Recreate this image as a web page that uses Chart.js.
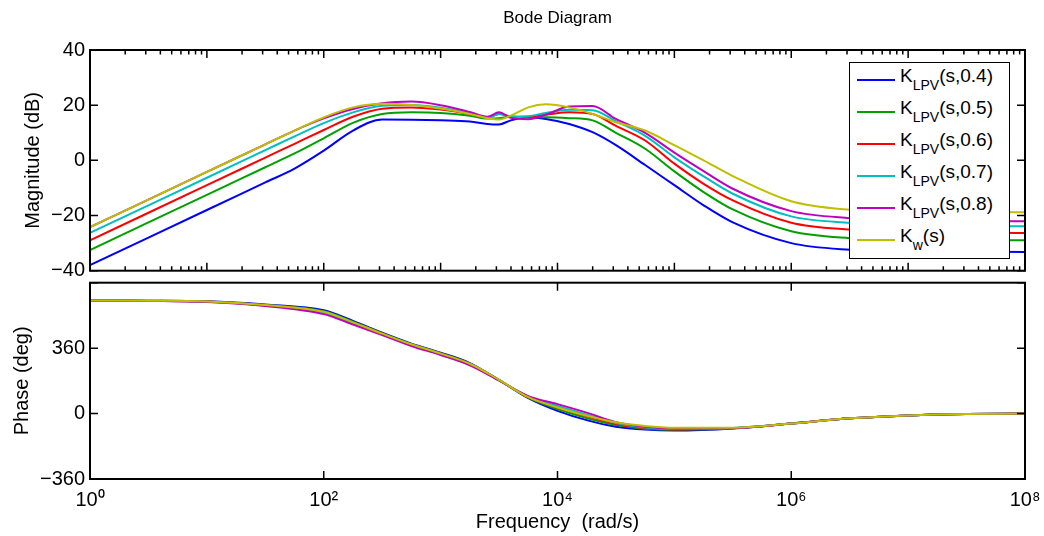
<!DOCTYPE html>
<html>
<head>
<meta charset="utf-8">
<script src="https://cdn.jsdelivr.net/npm/chart.js@4.4.1/dist/chart.umd.min.js"></script>
<style>
  body { margin: 0; background: #fff; }
  #wrap { position: relative; width: 1044px; height: 536px; font-family: 'Liberation Sans', Arial, sans-serif; }
  #magBox { position: absolute; left: 0; top: 0; width: 1044px; height: 285px; }
  #phaseBox { position: absolute; left: 0; top: 275px; width: 1044px; height: 261px; }
  #legend { position: absolute; left: 849px; top: 62px; width: 161px; height: 197px; box-sizing: border-box;
            border: 1px solid #000; background: #fff; }
  .row { position: absolute; left: 0; width: 159px; height: 32px; font-size: 19px; color: #000; }
  .row .ln { position: absolute; left: 7px; top: 16px; width: 38px; height: 2px; }
  .row .tx { position: absolute; left: 50px; top: 2px; white-space: nowrap; line-height: 22px; }
  .row sub { font-size: 14px; position: relative; top: 3px; vertical-align: sub; line-height: 0; }
</style>
</head>
<body>
<div id="wrap">
  <div id="magBox"><canvas id="mag"></canvas></div>
  <div id="phaseBox"><canvas id="phase"></canvas></div>
  <div id="legend"></div>
</div>
<script>
// frequency grid, as log10(rad/s)
const magLogW = [0, 1, 1.5, 1.75, 2, 2.25, 2.5, 2.75, 3, 3.25, 3.4, 3.5, 3.6, 3.75, 3.9, 4.1, 4.3, 4.5, 4.75, 5, 5.25, 5.5, 6, 6.5, 7, 8];
const phaseLogW = [0, 0.5, 1, 1.5, 2, 2.25, 2.5, 2.75, 3, 3.25, 3.5, 3.75, 4, 4.25, 4.5, 4.75, 5, 5.5, 6, 6.5, 7, 7.5, 8];

// magnitude (dB)
const magK04 = [-38, -18, -8, -3, 3.5, 10.8, 14.8, 14.7, 14.5, 14.1, 13.2, 13.0, 14.5, 15.6, 15.0, 13.2, 10.2, 5.5, -1.7, -9, -16.3, -22.5, -30, -32.4, -33, -33.2];
const magK05 = [-32.5, -12.5, -2.5, 2.5, 8, 13.6, 16.8, 17.4, 17.2, 16.2, 15.2, 15.3, 15.8, 15.6, 15.6, 15.3, 14.5, 10, 4.2, -4, -11.5, -17.8, -25.7, -28.2, -28.8, -29];
const magK06 = [-29, -9, 1, 6, 11, 15.8, 18.7, 19.2, 18.4, 16.8, 15.5, 16.8, 15.9, 15.8, 16.5, 17.4, 16.8, 12.5, 7.2, -1.2, -8.5, -14.5, -22.6, -25.1, -25.9, -26.3];
const magK07 = [-26.3, -6.3, 3.7, 8.7, 13.5, 17.4, 19.8, 20.1, 19.1, 17, 15.5, 16.8, 15.7, 16, 17.2, 18.3, 18.2, 14.2, 8.9, 1.1, -5.8, -12.1, -20.3, -22.6, -23.4, -23.9];
const magK08 = [-24.2, -4.2, 5.8, 10.8, 15.2, 18.6, 20.7, 21.3, 20, 17.5, 15.8, 17.4, 15.4, 14.9, 16.5, 19.5, 19.7, 15, 10, 2.8, -3.9, -10.3, -18.4, -20.9, -21.7, -22.1];
const magKw = [-24.2, -4.2, 5.8, 10.8, 15.6, 19.2, 20.5, 20.1, 18.8, 16.8, 15.3, 14.8, 16.2, 19.2, 20.3, 19.2, 16.8, 13.8, 10.8, 5.5, 0, -5.7, -14.8, -17.9, -18.6, -18.8];

// phase (deg)
const phK04 = [622, 621, 618, 600, 568, 510, 445, 385, 335, 278, 185, 85, 15, -36, -72, -88, -93, -82, -55, -26, -10, -2, 0];
const phK05 = [622, 621, 617, 598, 563, 506, 442, 382, 332, 275, 184, 88, 25, -25, -63, -83, -89, -81, -55, -26, -10, -2, 0];
const phK06 = [622, 620, 616, 596, 558, 501, 439, 379, 329, 272, 183, 91, 33, -15, -57, -79, -87, -81, -55, -26, -10, -2, 0];
const phK07 = [622, 620, 615, 594, 553, 496, 436, 376, 326, 269, 182, 93, 42, -6, -52, -76, -85, -80, -55, -26, -10, -2, 0];
const phK08 = [622, 620, 614, 592, 547, 490, 432, 372, 322, 266, 182, 96, 52, 5, -47, -73, -82, -80, -55, -26, -10, -2, 0];
const phKw = [622, 621, 617, 597, 560, 502, 440, 381, 330, 274, 186, 90, 33, -12, -48, -68, -78, -78, -55, -26, -10, -2, 0];

const seriesMain = ['K', 'K', 'K', 'K', 'K', 'K'];
const seriesSub = ['LPV', 'LPV', 'LPV', 'LPV', 'LPV', 'w'];
const seriesArg = ['(s,0.4)', '(s,0.5)', '(s,0.6)', '(s,0.7)', '(s,0.8)', '(s)'];
const seriesColors = ['#0000ff', '#00a000', '#ff0000', '#00bfbf', '#bf00bf', '#bfbf00'];

const magTicks = [-40, -20, 0, 20, 40];
const phaseTicks = [-360, 0, 360, 720];
const decadeLabels = [0, 2, 4, 6, 8];
const sup = { 0: '\u2070', 2: '\u00b2', 4: '\u2074', 6: '\u2076', 8: '\u2078' };

Chart.defaults.font.family = "'Liberation Sans', Arial, sans-serif";
Chart.defaults.color = '#000';

function pts(logw, vals) {
  return logw.map((e, i) => ({ x: Math.pow(10, e), y: vals[i] }));
}
function makeSets(logw, list) {
  return list.map((vals, i) => ({
    label: seriesMain[i] + '_' + seriesSub[i] + seriesArg[i],
    data: pts(logw, vals),
    borderColor: seriesColors[i],
    borderWidth: 2,
    pointRadius: 0,
    cubicInterpolationMode: 'monotone',
    order: list.length - i
  }));
}
const minus = v => (v < 0 ? '\u2212' + Math.abs(v) : String(v));
const noPad = s => { s.paddingTop = 0; s.paddingBottom = 0; s.paddingLeft = 0; s.paddingRight = 0; };

// box + inward ticks like matlab
const frame = {
  id: 'frame',
  afterDatasetsDraw(chart, args, opts) {
    const { ctx, chartArea: a } = chart;
    const x = chart.scales.x, y = chart.scales.y;
    ctx.save();
    ctx.strokeStyle = '#000';
    ctx.lineWidth = 1.5;
    ctx.beginPath();
    const xt = (v, len) => {
      const p = x.getPixelForValue(v);
      ctx.moveTo(p, a.bottom); ctx.lineTo(p, a.bottom - len);
      ctx.moveTo(p, a.top); ctx.lineTo(p, a.top + len);
    };
    opts.xMajor.forEach(v => xt(v, 8));
    opts.xMinor.forEach(v => xt(v, 4.5));
    opts.yMajor.forEach(v => {
      const p = y.getPixelForValue(v);
      ctx.moveTo(a.left, p); ctx.lineTo(a.left + 8, p);
      ctx.moveTo(a.right, p); ctx.lineTo(a.right - 8, p);
    });
    ctx.stroke();
    ctx.lineWidth = 2;
    ctx.strokeRect(a.left, a.top, a.right - a.left, a.bottom - a.top);
    ctx.restore();
  }
};

const allDecades = [0, 1, 2, 3, 4, 5, 6, 7, 8].map(e => Math.pow(10, e));
const minors = [];
for (let e = 0; e < 8; e++) for (let m = 2; m < 10; m++) minors.push(m * Math.pow(10, e));

const magChart = new Chart(document.getElementById('mag'), {
  type: 'line',
  data: { datasets: makeSets(magLogW, [magK04, magK05, magK06, magK07, magK08, magKw]) },
  plugins: [frame],
  options: {
    responsive: true, maintainAspectRatio: false, animation: false,
    layout: { padding: { left: 0, right: 19, top: 0, bottom: 14.3 } },
    plugins: {
      legend: { display: false }, tooltip: { enabled: false },
      title: { display: true, text: 'Bode Diagram', fullSize: false, font: { size: 17, weight: 'normal' },
               padding: { top: 8, bottom: 21.6 } },
      frame: { xMajor: allDecades, xMinor: minors, yMajor: magTicks }
    },
    scales: {
      x: { type: 'logarithmic', min: 1, max: 1e8, display: false },
      y: {
        min: -40, max: 40,
        afterFit: s => { s.width = 90; noPad(s); },
        afterBuildTicks: s => { s.ticks = magTicks.map(v => ({ value: v })); },
        grid: { display: false, drawTicks: false }, border: { display: false },
        ticks: { padding: 5, font: { size: 20 }, callback: v => minus(v) },
        title: { display: true, text: 'Magnitude (dB)', font: { size: 20 }, padding: { top: 21 } }
      }
    }
  }
});

const phaseChart = new Chart(document.getElementById('phase'), {
  type: 'line',
  data: { datasets: makeSets(phaseLogW, [phK04, phK05, phK06, phK07, phK08, phKw]) },
  plugins: [frame],
  options: {
    responsive: true, maintainAspectRatio: false, animation: false,
    layout: { padding: { left: 0, right: 19, top: 7.7, bottom: 0 } },
    plugins: {
      legend: { display: false }, tooltip: { enabled: false },
      frame: { xMajor: decadeLabels.map(e => Math.pow(10, e)), xMinor: [], yMajor: phaseTicks }
    },
    scales: {
      x: {
        type: 'logarithmic', min: 1, max: 1e8,
        afterFit: s => { s.height = 57; noPad(s); },
        afterBuildTicks: s => { s.ticks = decadeLabels.map(e => ({ value: Math.pow(10, e) })); },
        grid: { display: false, drawTicks: false }, border: { display: false },
        ticks: { padding: 9, maxRotation: 0, font: { size: 20 },
                 callback: v => '10' + sup[Math.round(Math.log10(v))] },
        title: { display: true, text: 'Frequency  (rad/s)', font: { size: 20 }, padding: { top: 0, bottom: 2 } }
      },
      y: {
        min: -360, max: 720,
        afterFit: s => { s.width = 90; noPad(s); },
        afterBuildTicks: s => { s.ticks = phaseTicks.map(v => ({ value: v })); },
        grid: { display: false, drawTicks: false }, border: { display: false },
        ticks: { padding: 5, font: { size: 20 }, callback: v => (v === 720 ? '' : minus(v)) },
        title: { display: true, text: 'Phase (deg)', font: { size: 20 }, padding: { top: 10.6 } }
      }
    }
  }
});

// html legend, so the subscripts stay real text
const legendEl = document.getElementById('legend');
seriesColors.forEach((c, i) => {
  const row = document.createElement('div');
  row.className = 'row';
  row.style.top = (32 * i) + 'px';
  row.innerHTML = '<span class="ln" style="background:' + c + '"></span>' +
    '<span class="tx">' + seriesMain[i] + '<sub>' + seriesSub[i] + '</sub>' + seriesArg[i] + '</span>';
  legendEl.appendChild(row);
});
</script>
</body>
</html>
